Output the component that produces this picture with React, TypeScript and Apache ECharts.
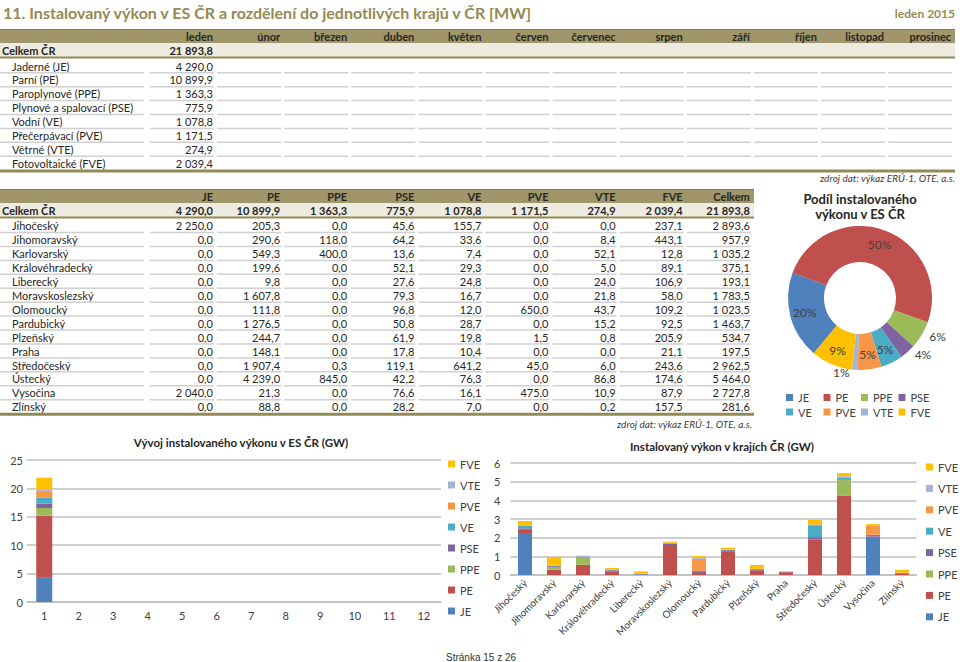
import React, { useEffect, useRef } from 'react';
import * as echarts from 'echarts';

// ---------- data ----------
const pageTitle = '11. Instalovaný výkon v ES ČR a rozdělení do jednotlivých krajů v ČR [MW]';
const pageDate = 'leden 2015';
const sourceNote = 'zdroj dat: výkaz ERÚ-1, OTE, a.s.';
const footerText = 'Stránka 15 z 26';

const months = ['leden', 'únor', 'březen', 'duben', 'květen', 'červen', 'červenec', 'srpen', 'září', 'říjen', 'listopad', 'prosinec'];
const monthNumbers = ['1', '2', '3', '4', '5', '6', '7', '8', '9', '10', '11', '12'];
const typeCodes = ['JE', 'PE', 'PPE', 'PSE', 'VE', 'PVE', 'VTE', 'FVE'];
const typeNames = ['Jaderné (JE)', 'Parní (PE)', 'Paroplynové (PPE)', 'Plynové a spalovací (PSE)', 'Vodní (VE)', 'Přečerpávací (PVE)', 'Větrné (VTE)', 'Fotovoltaické (FVE)'];
const totalLabel = 'Celkem ČR';
const totalColumn = 'Celkem';

// January 2015, MW
const janTotal = 21893.8;
const janByType = [4290.0, 10899.9, 1363.3, 775.9, 1078.8, 1171.5, 274.9, 2039.4];

const regions = ['Jihočeský', 'Jihomoravský', 'Karlovarský', 'Královéhradecký', 'Liberecký', 'Moravskoslezský', 'Olomoucký', 'Pardubický', 'Plzeňský', 'Praha', 'Středočeský', 'Ústecký', 'Vysočina', 'Zlínský'];
const regJE = [2250.0, 0.0, 0.0, 0.0, 0.0, 0.0, 0.0, 0.0, 0.0, 0.0, 0.0, 0.0, 2040.0, 0.0];
const regPE = [205.3, 290.6, 549.3, 199.6, 9.8, 1607.8, 111.8, 1276.5, 244.7, 148.1, 1907.4, 4239.0, 21.3, 88.8];
const regPPE = [0.0, 118.0, 400.0, 0.0, 0.0, 0.0, 0.0, 0.0, 0.0, 0.0, 0.3, 845.0, 0.0, 0.0];
const regPSE = [45.6, 64.2, 13.6, 52.1, 27.6, 79.3, 96.8, 50.8, 61.9, 17.8, 119.1, 42.2, 76.6, 28.2];
const regVE = [155.7, 33.6, 7.4, 29.3, 24.8, 16.7, 12.0, 28.7, 19.8, 10.4, 641.2, 76.3, 16.1, 7.0];
const regPVE = [0.0, 0.0, 0.0, 0.0, 0.0, 0.0, 650.0, 0.0, 1.5, 0.0, 45.0, 0.0, 475.0, 0.0];
const regVTE = [0.0, 8.4, 52.1, 5.0, 24.0, 21.8, 43.7, 15.2, 0.8, 0.0, 6.0, 86.8, 10.9, 0.2];
const regFVE = [237.1, 443.1, 12.8, 89.1, 106.9, 58.0, 109.2, 92.5, 205.9, 21.1, 243.6, 174.6, 87.9, 157.5];
const regTotal = [2893.6, 957.9, 1035.2, 375.1, 193.1, 1783.5, 1023.5, 1463.7, 534.7, 197.5, 2962.5, 5464.0, 2727.8, 281.6];
const regByType = [regJE, regPE, regPPE, regPSE, regVE, regPVE, regVTE, regFVE];

const chartTitleLeft = 'Vývoj instalovaného výkonu v ES ČR (GW)';
const chartTitleRight = 'Instalovaný výkon v krajích ČR (GW)';
const chartTitlePie1 = 'Podíl instalovaného';
const chartTitlePie2 = 'výkonu v ES ČR';

// ---------- styles ----------
const typeColors = ['#4F81BD', '#C0504D', '#9BBB59', '#8064A2', '#4BACC6', '#F79646', '#A2B4D8', '#FFC000'];
const FONT = 'Lato, "Noto Sans", sans-serif';
const OLIVE = '#948A54';
const HEADER_FILL = '#A0966A';
const BEIGE = '#EEECE1';
const SEP = '#D0D0D0';
const TXT = '#262626';
const AX = '#404040';

function fmt(v: number): string {
  const [i, d] = v.toFixed(1).split('.');
  return i.replace(/\B(?=(\d{3})+(?!\d))/g, ' ') + ',' + d;
}

const colW = 64;
const colLeft = (i: number) => 150 + i * 67.1;
const colRight = (i: number) => colLeft(i) + colW - 1;

function txt(x: number, y: number, text: string, o: any = {}) {
  return {
    type: 'text',
    silent: true,
    style: {
      text,
      x,
      y,
      fill: o.fill || TXT,
      fontSize: o.fontSize || 11,
      fontFamily: o.fontFamily || FONT,
      fontWeight: o.fontWeight || 'normal',
      fontStyle: o.fontStyle || 'normal',
      align: o.align || 'left',
      verticalAlign: 'middle',
    },
  };
}
function rect(x: number, y: number, w: number, h: number, fill: string) {
  return { type: 'rect', silent: true, shape: { x, y, width: w, height: h }, style: { fill } };
}
function hline(x1: number, x2: number, y: number, stroke: string, lw: number) {
  return { type: 'line', silent: true, shape: { x1, y1: y, x2, y2: y }, style: { stroke, lineWidth: lw } };
}

function buildGraphics() {
  const g: any[] = [];
  // page title
  g.push(txt(3, 12, pageTitle, { fontSize: 16, fontWeight: 'bold', fill: OLIVE }));
  g.push(txt(955, 13, pageDate, { fontSize: 12, fontWeight: 'bold', fill: OLIVE, align: 'right' }));

  // ---- table 1 ----
  g.push(rect(0, 29, 955, 14, HEADER_FILL));
  g.push(hline(0, 955, 29.5, '#857B4B', 1));
  months.forEach((m, i) => g.push(txt(colRight(i), 36.5, m, { fontWeight: 'bold', align: 'right' })));
  g.push(rect(0, 43, 955, 14, BEIGE));
  g.push(txt(2, 50, totalLabel, { fontWeight: 'bold' }));
  g.push(txt(colRight(0), 50, fmt(janTotal), { fontWeight: 'bold', align: 'right' }));
  g.push(hline(0, 955, 57.5, OLIVE, 2));
  typeNames.forEach((n, k) => {
    const y = 66 + 13.9 * k;
    g.push(txt(12, y, n));
    g.push(txt(colRight(0), y, fmt(janByType[k]), { align: 'right' }));
    if (k < typeNames.length - 1) {
      const ly = y + 6.8;
      g.push(hline(0, 144, ly, SEP, 1.5));
      months.forEach((_, i) => g.push(hline(colLeft(i), colLeft(i) + colW, ly, SEP, 1.5)));
    }
  });
  g.push(hline(0, 955, 171, OLIVE, 3));
  g.push(txt(955, 178, sourceNote, { fontSize: 10, fontStyle: 'italic', fill: AX, align: 'right' }));

  // ---- table 2 ----
  const heads = [...typeCodes, totalColumn];
  g.push(rect(0, 189, 754, 14, HEADER_FILL));
  g.push(hline(0, 754, 189.5, '#857B4B', 1));
  heads.forEach((h, i) => g.push(txt(colRight(i), 196, h, { fontWeight: 'bold', align: 'right' })));
  g.push(rect(0, 203, 754, 14, BEIGE));
  g.push(txt(2, 210, totalLabel, { fontWeight: 'bold' }));
  janByType.forEach((v, i) => g.push(txt(colRight(i), 210, fmt(v), { fontWeight: 'bold', align: 'right' })));
  g.push(txt(colRight(8), 210, fmt(janTotal), { fontWeight: 'bold', align: 'right' }));
  g.push(hline(0, 754, 217.5, OLIVE, 2));
  regions.forEach((r, k) => {
    const y = 225.8 + 13.92 * k;
    g.push(txt(12, y, r));
    regByType.forEach((arr, i) => g.push(txt(colRight(i), y, fmt(arr[k]), { align: 'right' })));
    g.push(txt(colRight(8), y, fmt(regTotal[k]), { align: 'right' }));
    if (k < regions.length - 1) {
      const ly = y + 6.8;
      g.push(hline(0, 144, ly, SEP, 1.5));
      heads.forEach((_, i) => g.push(hline(colLeft(i), colLeft(i) + colW, ly, SEP, 1.5)));
    }
  });
  g.push(hline(0, 754, 414.3, OLIVE, 3));
  g.push(txt(752, 424, sourceNote, { fontSize: 10, fontStyle: 'italic', fill: AX, align: 'right' }));

  // footer
  g.push(txt(446, 657, footerText, { fontSize: 10, fontFamily: '"Liberation Sans", Arial, sans-serif', fill: '#333333' }));
  return g;
}

function buildOption(): any {
  const legendBase = {
    orient: 'vertical',
    icon: 'rect',
    itemWidth: 7,
    itemHeight: 7,
    selectedMode: false,
    padding: 0,
    textStyle: { fontSize: 11, color: AX, fontFamily: FONT, lineHeight: 12 },
    data: [...typeCodes].reverse(),
  };
  const series: any[] = [];
  typeCodes.forEach((c, k) => {
    series.push({
      type: 'bar',
      name: c,
      stack: 'months',
      xAxisIndex: 0,
      yAxisIndex: 0,
      barWidth: 16,
      itemStyle: { color: typeColors[k] },
      data: monthNumbers.map((_, i) => (i === 0 ? janByType[k] / 1000 : null)),
    });
  });
  typeCodes.forEach((c, k) => {
    series.push({
      type: 'bar',
      name: c,
      stack: 'regions',
      xAxisIndex: 1,
      yAxisIndex: 1,
      barWidth: 14,
      itemStyle: { color: typeColors[k] },
      data: regByType[k].map((v) => v / 1000),
    });
  });
  const outsideCodes = ['PPE', 'PSE', 'VTE'];
  series.push({
    type: 'pie',
    name: 'podil',
    center: [860, 298],
    radius: [36, 72],
    startAngle: 230,
    clockwise: true,
    avoidLabelOverlap: false,
    label: {
      show: true,
      position: 'inside',
      fontSize: 12,
      color: AX,
      fontFamily: FONT,
      formatter: (p: any) => Math.round(p.percent) + '%',
    },
    labelLine: { show: false, length: 3, length2: 0 },
    data: typeCodes.map((c, k) => ({
      name: c,
      value: janByType[k],
      itemStyle: { color: typeColors[k] },
      label: outsideCodes.includes(c) ? { position: 'outside' } : undefined,
      labelLine: { show: false, length: 3, length2: 0 },
    })),
  });

  const titleStyle = { fontSize: 12, fontWeight: 'bold', color: TXT, fontFamily: FONT };
  return {
    animation: false,
    backgroundColor: '#ffffff',
    textStyle: { fontFamily: FONT },
    title: [
      { text: chartTitleLeft, left: 241, top: 436, textAlign: 'center', padding: 0, textStyle: { ...titleStyle, fontSize: 11.5 } },
      { text: chartTitleRight, left: 722, top: 440, textAlign: 'center', padding: 0, textStyle: { ...titleStyle, fontSize: 11.5 } },
      { text: chartTitlePie1, left: 860, top: 192, textAlign: 'center', padding: 0, textStyle: { ...titleStyle, fontSize: 13 } },
      { text: chartTitlePie2, left: 860, top: 207, textAlign: 'center', padding: 0, textStyle: { ...titleStyle, fontSize: 13 } },
    ],
    legend: [
      { ...legendBase, left: 448, top: 458, itemGap: 9 },
      { ...legendBase, left: 926, top: 461, itemGap: 9.4 },
      {
        orient: 'horizontal',
        icon: 'rect',
        itemWidth: 7,
        itemHeight: 7,
        selectedMode: false,
        padding: 0,
        left: 786,
        top: 391,
        width: 152,
        itemGap: 1.5,
        textStyle: { fontSize: 11, color: AX, fontFamily: FONT, lineHeight: 13, width: 24 },
        data: typeCodes,
      },
    ],
    grid: [
      { left: 27, top: 460, width: 414, height: 142 },
      { left: 510.5, top: 463, width: 406, height: 112 },
    ],
    xAxis: [
      {
        type: 'category',
        gridIndex: 0,
        data: monthNumbers,
        axisTick: { show: false },
        axisLine: { lineStyle: { color: '#BFBFBF', width: 1.5 } },
        axisLabel: { fontSize: 11, color: AX, margin: 8, fontFamily: FONT },
      },
      {
        type: 'category',
        gridIndex: 1,
        data: regions,
        axisTick: { show: false },
        axisLine: { lineStyle: { color: '#BFBFBF', width: 1.5 } },
        axisLabel: { fontSize: 10, color: AX, margin: 6, rotate: 45, interval: 0, fontFamily: FONT },
      },
    ],
    yAxis: [
      {
        type: 'value',
        gridIndex: 0,
        min: 0,
        max: 25,
        interval: 5,
        axisLine: { show: false },
        axisTick: { show: false },
        splitLine: { lineStyle: { color: '#BFBFBF', width: 1.5 } },
        axisLabel: { fontSize: 11, color: AX, margin: 4, fontFamily: FONT },
      },
      {
        type: 'value',
        gridIndex: 1,
        min: 0,
        max: 6,
        interval: 1,
        axisLine: { show: false },
        axisTick: { show: false },
        splitLine: { lineStyle: { color: '#BFBFBF', width: 1.5 } },
        axisLabel: { fontSize: 11, color: AX, margin: 10, fontFamily: FONT },
      },
    ],
    series,
    graphic: buildGraphics(),
  };
}

export default function App() {
  const ref = useRef<HTMLDivElement>(null);
  useEffect(() => {
    if (!ref.current) return;
    const chart = echarts.init(ref.current, null, { renderer: 'svg' });
    chart.setOption(buildOption());
    return () => chart.dispose();
  }, []);
  return (
    <div
      ref={ref}
      style={{ position: 'absolute', left: 0, top: 0, width: 960, height: 662, background: '#fff' }}
    />
  );
}
